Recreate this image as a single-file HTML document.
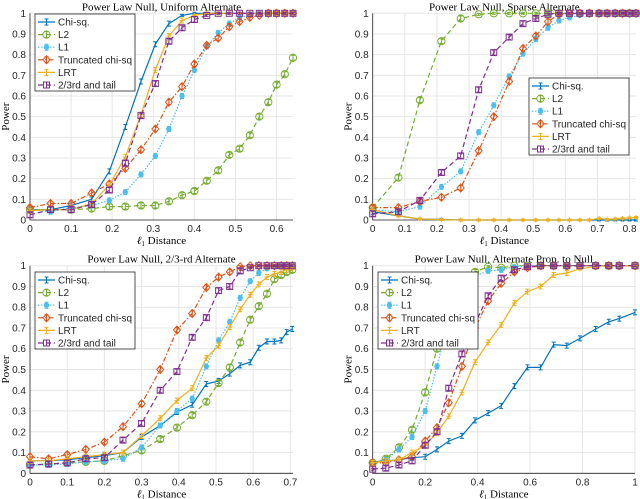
<!DOCTYPE html>
<html><head><meta charset="utf-8"><style>
body{margin:0;background:#fff}
svg{display:block}
text{font-family:"Liberation Sans",sans-serif;font-size:10px;fill:#262626}
.ser{font-family:"Liberation Serif",serif;font-size:11px;fill:#000}
</style></head><body>
<svg id="c" width="640" height="499"></svg>
<script>
const names=["Chi-sq.","L2","L1","Truncated chi-sq","LRT","2/3rd and tail"];
const titles=["Power Law Null, Uniform Alternate","Power Law Null, Sparse Alternate","Power Law Null, 2/3-rd Alternate","Power Law Null, Alternate Prop. to Null"];
const x1=[0,0.05,0.1,0.15,0.193,0.232,0.27,0.305,0.338,0.37,0.40,0.43,0.458,0.485,0.51,0.535,0.558,0.58,0.60,0.62,0.64];
const p1chi=[0.05,0.05,0.07,0.1,0.235,0.45,0.67,0.85,0.95,0.99,1,1,1,1,1,1,1,1,1,1,1];
const p1l2=[0.05,0.05,0.05,0.055,0.065,0.065,0.07,0.07,0.09,0.12,0.14,0.19,0.24,0.315,0.345,0.41,0.5,0.57,0.655,0.705,0.785];
const p1l1=[0.05,0.04,0.06,0.07,0.095,0.135,0.22,0.31,0.44,0.6,0.725,0.84,0.905,0.95,0.98,0.99,1,1,1,1,1];
const p1tr=[0.06,0.08,0.08,0.13,0.175,0.25,0.34,0.44,0.57,0.645,0.755,0.845,0.88,0.935,0.96,0.98,0.99,1,1,1,1];
const p1lrt=[0.045,0.05,0.05,0.08,0.17,0.305,0.51,0.725,0.89,0.965,0.99,1,1,1,1,1,1,1,1,1,1];
const p1tt=[0.025,0.05,0.05,0.075,0.145,0.275,0.505,0.66,0.865,0.93,0.97,0.99,1,1,1,1,1,1,1,1,1];
const x2=[0,0.08,0.147,0.214,0.274,0.33,0.377,0.425,0.468,0.508,0.546,0.58,0.613,0.645,0.675,0.705,0.73,0.755,0.778,0.8,0.82];
const p2chi=[0.04,0.02,0.005,0.003,0,0,0,0,0,0,0,0,0,0,0,0,0,0,0,0,0];
const p2l2=[0.06,0.205,0.58,0.865,0.975,0.995,1,1,1,1,1,1,1,1,1,1,1,1,1,1,1];
const p2l1=[0.05,0.04,0.065,0.16,0.235,0.425,0.555,0.695,0.805,0.875,0.93,0.965,0.98,0.99,1,1,1,1,1,1,1];
const p2tr=[0.06,0.06,0.09,0.11,0.155,0.335,0.5,0.67,0.83,0.89,0.96,0.995,1,1,1,1,1,1,1,1,1];
const p2lrt=[0.05,0.02,0.005,0.002,0,0,0,0,0,0,0,0,0,0,0,0.008,0.003,0.005,0.008,0.01,0.012];
const p2tt=[0.03,0.04,0.095,0.23,0.31,0.63,0.81,0.885,0.95,0.975,0.995,1,1,1,1,1,1,1,1,1,1];
const x3=[0,0.05,0.1,0.15,0.2,0.25,0.3,0.35,0.395,0.436,0.474,0.507,0.537,0.565,0.592,0.615,0.637,0.657,0.675,0.69,0.705];
const p3chi=[0.06,0.06,0.065,0.075,0.085,0.1,0.175,0.23,0.295,0.33,0.43,0.445,0.48,0.52,0.535,0.605,0.635,0.635,0.64,0.68,0.695];
const p3l2=[0.04,0.045,0.05,0.055,0.06,0.085,0.11,0.165,0.22,0.28,0.345,0.435,0.51,0.63,0.74,0.805,0.865,0.935,0.955,0.97,0.98];
const p3l1=[0.04,0.04,0.045,0.055,0.06,0.07,0.125,0.23,0.3,0.36,0.515,0.64,0.73,0.845,0.925,0.965,0.985,0.995,1,1,1];
const p3tr=[0.08,0.07,0.09,0.115,0.15,0.225,0.335,0.5,0.69,0.77,0.895,0.945,0.97,0.995,1,1,1,1,1,1,1];
const p3lrt=[0.06,0.06,0.07,0.08,0.09,0.1,0.18,0.265,0.35,0.41,0.555,0.615,0.705,0.79,0.86,0.91,0.945,0.96,0.97,0.98,0.985];
const p3tt=[0.04,0.045,0.05,0.07,0.075,0.16,0.24,0.4,0.49,0.655,0.75,0.88,0.9,0.975,0.99,1,1,1,1,1,1];
const x4=[0,0.05,0.1,0.15,0.2,0.245,0.29,0.34,0.39,0.44,0.49,0.54,0.59,0.64,0.69,0.74,0.79,0.85,0.9,0.94,1];
const p4chi=[0.055,0.06,0.065,0.075,0.08,0.115,0.155,0.18,0.255,0.29,0.325,0.42,0.51,0.51,0.62,0.615,0.65,0.695,0.73,0.745,0.775];
const p4l2=[0.05,0.07,0.125,0.21,0.39,0.6,0.8,0.93,0.97,0.995,0.99,1,1,1,1,1,1,1,1,1,1];
const p4l1=[0.05,0.065,0.115,0.175,0.3,0.515,0.74,0.88,0.95,0.975,0.98,0.995,1,1,1,1,1,1,1,1,1];
const p4tr=[0.05,0.05,0.065,0.08,0.155,0.22,0.34,0.515,0.7,0.83,0.915,0.97,0.99,1,1,1,1,1,1,1,1];
const p4lrt=[0.05,0.06,0.065,0.1,0.135,0.195,0.275,0.39,0.535,0.63,0.715,0.82,0.875,0.9,0.955,0.965,0.985,0.995,1,1,1];
const p4tt=[0.02,0.025,0.04,0.06,0.135,0.2,0.41,0.575,0.72,0.855,0.94,0.98,0.995,1,1,1,1,1,1,1,1];
const xticks1=[0,0.1,0.2,0.3,0.4,0.5,0.6];
const xticks2=[0,0.1,0.2,0.3,0.4,0.5,0.6,0.7,0.8];
const xticks3=[0,0.1,0.2,0.3,0.4,0.5,0.6,0.7];
const xticks4=[0,0.2,0.4,0.6,0.8,1];
const yticks=[0,0.1,0.2,0.3,0.4,0.5,0.6,0.7,0.8,0.9,1];

const colors=["#0072BD","#77AC30","#4DBEEE","#D95319","#EDB120","#7E2F8E"];
const dashes=["","5,3","1.5,1.5","5,2,1.5,2","","5,3"];
const markers=["bar","circle","dot","diamond","star","square"];
const NS="http://www.w3.org/2000/svg";
const svg=document.getElementById('c');
function mk(tag,attrs,parent){const e=document.createElementNS(NS,tag);for(const k in attrs)e.setAttribute(k,attrs[k]);(parent||svg).appendChild(e);return e;}
function marker(g,type,cx,cy,col){
  if(type==="circle")return mk('circle',{cx,cy,r:3.6,fill:'none',stroke:col,'stroke-width':1},g);
  if(type==="dot")return mk('circle',{cx,cy,r:2.2,fill:col,stroke:col},g);
  if(type==="diamond")return mk('path',{d:`M${cx} ${cy-4}L${cx+3.5} ${cy}L${cx} ${cy+4}L${cx-3.5} ${cy}Z`,fill:'none',stroke:col,'stroke-width':1},g);
  if(type==="square")return mk('rect',{x:cx-3,y:cy-3,width:6,height:6,fill:'none',stroke:col,'stroke-width':1},g);
  if(type==="star")return mk('path',{d:`M${cx-2.5} ${cy}H${cx+2.5}M${cx} ${cy-2.5}V${cy+2.5}`,stroke:col,'stroke-width':1},g);
  return null;
}
const panels=[
 {x:x1,s:[p1chi,p1l2,p1l1,p1tr,p1lrt,p1tt],xt:xticks1,xmax:0.64,L:30,R:293,T:13.3,B:220,leg:[35,14]},
 {x:x2,s:[p2chi,p2l2,p2l1,p2tr,p2lrt,p2tt],xt:xticks2,xmax:0.82,L:372.7,R:636,T:13.3,B:220,leg:[529,78]},
 {x:x3,s:[p3chi,p3l2,p3l1,p3tr,p3lrt,p3tt],xt:xticks3,xmax:0.707,L:30,R:293,T:265.7,B:473.3,leg:[35,272]},
 {x:x4,s:[p4chi,p4l2,p4l1,p4tr,p4lrt,p4tt],xt:xticks4,xmax:1,L:372.7,R:635,T:265.7,B:473.3,leg:[378,272]}];
panels.forEach((P,pi)=>{
  const g=mk('g',{});
  
  
  const sx=v=>P.L+v/P.xmax*(P.R-P.L), sy=v=>P.B-v*(P.B-P.T);
  P.xt.forEach(t=>{mk('line',{x1:sx(t),x2:sx(t),y1:P.T,y2:P.B,stroke:'#e6e6e6','stroke-width':1},g);
    const tx=mk('text',{x:sx(t),y:P.B+12,'text-anchor':'middle'},g);tx.textContent=String(t);
    
    });
  yticks.forEach(t=>{mk('line',{x1:P.L,x2:P.R,y1:sy(t),y2:sy(t),stroke:'#e6e6e6','stroke-width':1},g);
    const tx=mk('text',{x:P.L-4,y:sy(t)+3.5,'text-anchor':'end'},g);tx.textContent=String(t);
    
    });
  mk('path',{d:`M${P.L} ${P.T}V${P.B}H${P.R}`,fill:'none',stroke:'#262626','stroke-width':0.8},g);
  const ti=mk('text',{x:(P.L+P.R)/2,y:P.T-3,'text-anchor':'middle',class:'ser'},g);ti.textContent=titles[pi];
  
  
  const yl=mk('text',{x:0,y:0,'text-anchor':'middle',class:'ser',transform:`translate(${P.L-21},${(P.T+P.B)/2}) rotate(-90)`},g);yl.textContent='Power';
  
  
  const xl=mk('text',{x:(P.L+P.R)/2,y:P.B+24,'text-anchor':'middle',class:'ser'},g);
  xl.innerHTML='<tspan font-style="italic">ℓ</tspan><tspan font-size="7" dy="2">1</tspan><tspan dy="-2"> Distance</tspan>';
  
  
  P.s.forEach((ser,si)=>{
    const sg=mk('g',{},g);
    
    
    const col=colors[si];
    const d=ser.map((v,i)=>(i?'L':'M')+sx(P.x[i]).toFixed(1)+' '+sy(v).toFixed(1)).join('');
    mk('path',{d,fill:'none',stroke:col,'stroke-width':1.2,'stroke-dasharray':dashes[si]},sg);
    ser.forEach((v,i)=>{const cx=sx(P.x[i]),cy=sy(v);
      const e=Math.min(v,1-v)>0.02?2.5:1;
      mk('path',{d:`M${cx} ${cy-e}V${cy+e}M${cx-2} ${cy-e}H${cx+2}M${cx-2} ${cy+e}H${cx+2}`,stroke:col,'stroke-width':1},sg);
      marker(sg,markers[si],cx,cy,col);});
  });
  const [lx,ly]=P.leg;
  const lg=mk('g',{},g);
  
  
  mk('rect',{x:lx,y:ly,width:100,height:77,fill:'#fff',stroke:'#262626','stroke-width':0.8},lg);
  names.forEach((n,si)=>{const yy=ly+8+si*12.6;const col=colors[si];
    const eg=mk('g',{},lg);
    
    
    mk('line',{x1:lx+3,x2:lx+20,y1:yy,y2:yy,stroke:col,'stroke-width':1.2,'stroke-dasharray':dashes[si]},eg);
    mk('path',{d:`M${lx+11.5} ${yy-3}V${yy+3}M${lx+9.5} ${yy-3}H${lx+13.5}M${lx+9.5} ${yy+3}H${lx+13.5}`,stroke:col,'stroke-width':1},eg);
    marker(eg,markers[si],lx+11.5,yy,col);
    const t=mk('text',{x:lx+23,y:yy+3.5},eg);t.textContent=n;});
});
</script>
</body></html>
